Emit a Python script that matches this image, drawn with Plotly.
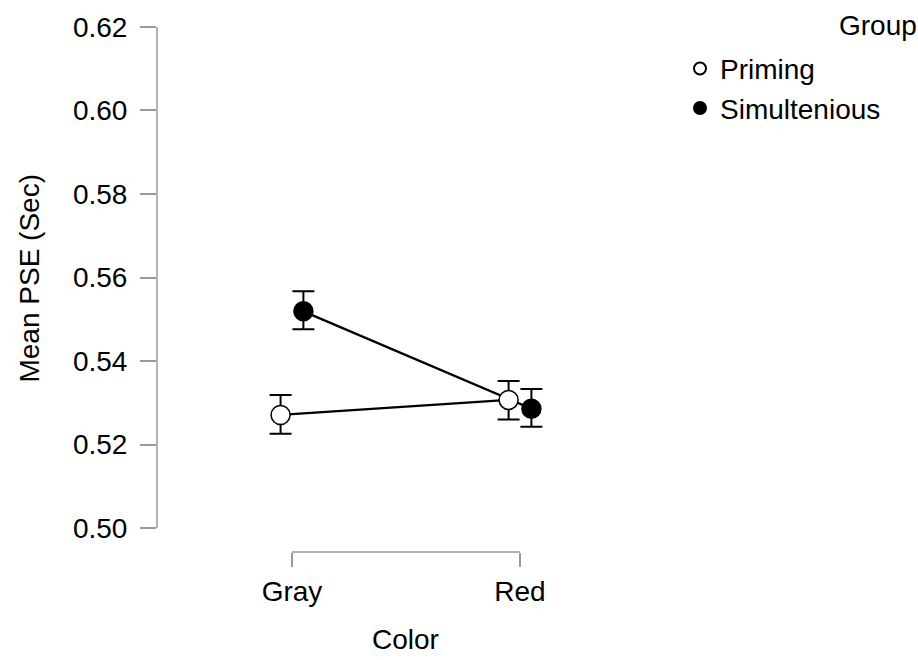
import plotly.graph_objects as go

categories = ["Gray", "Red"]
groups = ["Priming", "Simultenious"]
priming_mean = [0.5271, 0.5307]
priming_lo = [0.5226, 0.5260]
priming_hi = [0.5319, 0.5352]
simul_mean = [0.5519, 0.5286]
simul_lo = [0.5476, 0.5243]
simul_hi = [0.5567, 0.5333]
y_ticks = [0.50, 0.52, 0.54, 0.56, 0.58, 0.60, 0.62]

FONT = "Liberation Sans, Arial, Helvetica, sans-serif"
FS = 28
AXC = "#9a9a9a"

dodge = {"Priming": -0.05, "Simultenious": 0.05}
series = {
    "Priming": (priming_mean, priming_lo, priming_hi, "white"),
    "Simultenious": (simul_mean, simul_lo, simul_hi, "black"),
}

fig = go.Figure()
for g in groups:
    m, lo, hi, fill = series[g]
    xs = [i + dodge[g] for i in range(len(categories))]
    fig.add_trace(go.Scatter(x=xs, y=m, mode="lines", line=dict(color="black", width=2.3),
                             showlegend=False, hoverinfo="skip"))
for g in groups:
    m, lo, hi, fill = series[g]
    xs = [i + dodge[g] for i in range(len(categories))]
    fig.add_trace(go.Scatter(
        x=xs, y=m, mode="markers", name=g,
        marker=dict(size=19, color=fill, line=dict(color="black", width=1.5)),
        error_y=dict(type="data", symmetric=False,
                     array=[h - v for h, v in zip(hi, m)],
                     arrayminus=[v - l for v, l in zip(m, lo)],
                     color="black", thickness=2, width=11),
    ))

fig.add_shape(type="line", xref="paper", yref="y", x0=0, x1=0, y0=y_ticks[0], y1=y_ticks[-1],
              line=dict(color=AXC, width=1.5))
fig.add_shape(type="line", xref="x", yref="paper", x0=0, x1=len(categories) - 1, y0=0, y1=0,
              line=dict(color=AXC, width=1.5))

fig.add_annotation(text="Group", xref="paper", yref="paper", x=1.514, y=0.985,
                   xanchor="right", yanchor="middle", showarrow=False,
                   font=dict(family=FONT, size=FS, color="black"))
fig.add_annotation(text="Mean PSE (Sec)", xref="paper", yref="paper", x=-0.2525, y=0.513,
                   xanchor="center", yanchor="middle", textangle=-90, showarrow=False,
                   font=dict(family=FONT, size=FS, color="black"))
fig.add_annotation(text="Color", xref="paper", yref="paper", x=0.495, y=-0.1636,
                   xanchor="center", yanchor="middle", showarrow=False,
                   font=dict(family=FONT, size=FS, color="black"))

fig.update_layout(
    width=918, height=660,
    margin=dict(l=157, r=258, t=14, b=108),
    paper_bgcolor="white", plot_bgcolor="white",
    font=dict(family=FONT, size=FS, color="black"),
    showlegend=True,
    legend=dict(x=(680 - 157) / 503, y=(552 - 41) / 538, xanchor="left", yanchor="top",
                font=dict(family=FONT, size=FS), bgcolor="rgba(0,0,0,0)",
                tracegroupgap=0, itemsizing="constant"),
    xaxis=dict(range=[-0.592, 1.614], tickvals=list(range(len(categories))), ticktext=categories,
               showgrid=False, zeroline=False, showline=False,
               ticks="outside", ticklen=14, tickwidth=1.5, tickcolor=AXC,
               tickfont=dict(family=FONT, size=FS, color="black")),
    yaxis=dict(range=[0.494286, 0.622381], tickvals=y_ticks,
               ticktext=[f"{v:.2f}" for v in y_ticks],
               showgrid=False, zeroline=False, showline=False,
               ticks="outside", ticklen=16, tickwidth=1.5, tickcolor=AXC,
               ticklabelstandoff=7,
               tickfont=dict(family=FONT, size=FS, color="black")),
)

fig.write_html("out.html", config={"displayModeBar": False},
               post_script="document.body.style.margin='0';document.body.style.overflow='hidden';")
